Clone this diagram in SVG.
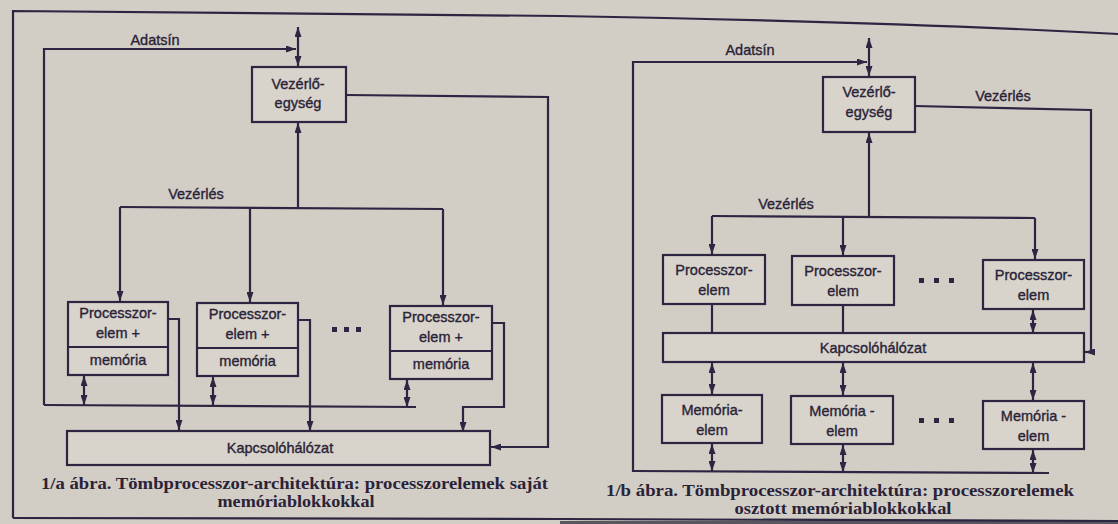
<svg xmlns="http://www.w3.org/2000/svg" width="1118" height="524" viewBox="0 0 1118 524">
<style>
.bg{fill:#d2cdc5}
.ln{fill:none;stroke:#2d2642;stroke-width:2.2}
.box{fill:#d8d3cb;stroke:#2d2642;stroke-width:2.2}
.t{font-family:"Liberation Sans",Arial,sans-serif;font-size:14.5px;fill:#2a2338;stroke:#2a2338;stroke-width:0.35;text-anchor:middle}
.cap{font-family:"Liberation Serif","Times New Roman",serif;font-size:16px;font-weight:bold;fill:#2a2338;text-anchor:middle}
.dot{fill:#2d2642}
.a{marker-end:url(#ah)}
.aa{marker-end:url(#ah);marker-start:url(#ah)}
</style>
<defs>
<marker id="ah" markerUnits="userSpaceOnUse" markerWidth="10" markerHeight="7" refX="10" refY="3.5" orient="auto-start-reverse">
<path d="M0,0 L10,3.5 L0,7 z" fill="#2d2642"/>
</marker>
</defs>
<rect class="bg" x="0" y="0" width="1118" height="524"/>
<polygon points="560,521 1118,520 1118,524 560,524" fill="#5a5660"/>
<g id="frame">
<path class="ln" d="M13,518 V11 L560,16 Q900,22 1118,34"/>
<path class="ln" d="M13,518 L560,519 L1118,521"/>
</g>

<!-- 1/a -->
<g id="a-adatsin-label"><text class="t" x="155" y="45">Adatsín</text></g>
<g id="a-vezerlo">
<rect class="box" x="252" y="67" width="94" height="55"/>
<text class="t" x="298" y="89">Vezérlő-</text>
<text class="t" x="298" y="108">egység</text>
</g>
<g id="a-vezerles-label"><text class="t" x="196" y="199">Vezérlés</text></g>
<g id="a-pe1">
<rect class="box" x="68" y="302" width="100" height="73"/>
<line class="ln" x1="68" y1="347" x2="168" y2="347"/>
<text class="t" x="118" y="318">Processzor-</text>
<text class="t" x="118" y="338">elem +</text>
<text class="t" x="118" y="365">memória</text>
</g>
<g id="a-pe2">
<rect class="box" x="197" y="303" width="101" height="73"/>
<line class="ln" x1="197" y1="348" x2="298" y2="348"/>
<text class="t" x="247.5" y="319">Processzor-</text>
<text class="t" x="247.5" y="339">elem +</text>
<text class="t" x="247.5" y="366">memória</text>
</g>
<g id="a-dots">
<rect class="dot" x="332" y="327" width="5" height="5"/>
<rect class="dot" x="344" y="327" width="5" height="5"/>
<rect class="dot" x="356" y="327" width="5" height="5"/>
</g>
<g id="a-pe3">
<rect class="box" x="390" y="306" width="102" height="73"/>
<line class="ln" x1="390" y1="351" x2="492" y2="351"/>
<text class="t" x="441" y="322">Processzor-</text>
<text class="t" x="441" y="342">elem +</text>
<text class="t" x="441" y="369">memória</text>
</g>
<g id="a-kapcs">
<rect class="box" x="67" y="431" width="423" height="34"/>
<text class="t" x="280" y="453">Kapcsolóhálózat</text>
</g>
<g id="a-caption">
<text class="cap" x="294.5" y="489" textLength="507" lengthAdjust="spacingAndGlyphs">1/a ábra. Tömbprocesszor-architektúra: processzorelemek saját</text>
<text class="cap" x="296" y="507" textLength="157" lengthAdjust="spacingAndGlyphs">memóriablokkokkal</text>
</g>

<g id="a-connectors">
<path class="ln a" d="M44,405 V49 H296"/>
<path class="ln aa" d="M298,66 V27"/>
<path class="ln a" d="M346,95 L548,97 V447 H491"/>
<path class="ln a" d="M298,208 V123"/>
<path class="ln" d="M120,207 L443,209"/>
<path class="ln a" d="M120,207 V301"/>
<path class="ln a" d="M250,208 V302"/>
<path class="ln a" d="M443,209 V305"/>
<path class="ln a" d="M168,319 H179 V430"/>
<path class="ln a" d="M298,320 H310 V431"/>
<path class="ln a" d="M492,323 H504 V407 H463 V432"/>
<path class="ln" d="M44,405 L416,407"/>
<path class="ln aa" d="M84,376 V405"/>
<path class="ln aa" d="M213,377 V405"/>
<path class="ln aa" d="M407,380 V407"/>
</g>

<!-- 1/b -->
<g id="b-adatsin-label"><text class="t" x="750" y="55">Adatsín</text></g>
<g id="b-vezerlo">
<rect class="box" x="823" y="77" width="92" height="55"/>
<text class="t" x="869" y="97">Vezérlő-</text>
<text class="t" x="869" y="117">egység</text>
</g>
<g id="b-vezerles-r-label"><text class="t" x="1003" y="101">Vezérlés</text></g>
<g id="b-vezerles-label"><text class="t" x="786" y="209">Vezérlés</text></g>
<g id="b-pe1">
<rect class="box" x="663" y="255" width="102" height="49"/>
<text class="t" x="714" y="275">Processzor-</text>
<text class="t" x="714" y="295">elem</text>
</g>
<g id="b-pe2">
<rect class="box" x="792" y="256" width="102" height="49"/>
<text class="t" x="843" y="276">Processzor-</text>
<text class="t" x="843" y="296">elem</text>
</g>
<g id="b-dots1">
<rect class="dot" x="919" y="278" width="5" height="5"/>
<rect class="dot" x="934" y="278" width="5" height="5"/>
<rect class="dot" x="949" y="278" width="5" height="5"/>
</g>
<g id="b-pe3">
<rect class="box" x="983" y="260" width="101" height="49"/>
<text class="t" x="1033.5" y="280">Processzor-</text>
<text class="t" x="1033.5" y="300">elem</text>
</g>
<g id="b-kapcs">
<rect class="box" x="663" y="333" width="421" height="29"/>
<text class="t" x="873" y="353">Kapcsolóhálózat</text>
</g>
<g id="b-mem1">
<rect class="box" x="662" y="395" width="100" height="48"/>
<text class="t" x="712" y="415">Memória-</text>
<text class="t" x="712" y="435">elem</text>
</g>
<g id="b-mem2">
<rect class="box" x="791" y="396" width="102" height="48"/>
<text class="t" x="842" y="416">Memória -</text>
<text class="t" x="842" y="436">elem</text>
</g>
<g id="b-dots2">
<rect class="dot" x="919" y="418" width="5" height="5"/>
<rect class="dot" x="934" y="418" width="5" height="5"/>
<rect class="dot" x="949" y="418" width="5" height="5"/>
</g>
<g id="b-mem3">
<rect class="box" x="983" y="401" width="101" height="48"/>
<text class="t" x="1033.5" y="421">Memória -</text>
<text class="t" x="1033.5" y="441">elem</text>
</g>
<g id="b-caption">
<text class="cap" x="840" y="496" textLength="468" lengthAdjust="spacingAndGlyphs">1/b ábra. Tömbprocesszor-architektúra: processzorelemek</text>
<text class="cap" x="843" y="514" textLength="217" lengthAdjust="spacingAndGlyphs">osztott memóriablokkokkal</text>
</g>

<g id="b-connectors">
<path class="ln a" d="M633,472 V62 H867"/>
<path class="ln aa" d="M869,76 V38"/>
<path class="ln" d="M915,106 L1091,110 V352"/>
<path class="ln a" d="M1092,352 H1085"/>
<path class="ln a" d="M869,217 V133"/>
<path class="ln" d="M712,216 L1035,218"/>
<path class="ln a" d="M712,216 V254"/>
<path class="ln a" d="M843,217 V255"/>
<path class="ln a" d="M1035,218 V259"/>
<path class="ln" d="M712,304 V333"/>
<path class="ln" d="M843,305 V333"/>
<path class="ln aa" d="M1033,310 V333"/>
<path class="ln aa" d="M712,363 V394"/>
<path class="ln aa" d="M843,363 V395"/>
<path class="ln aa" d="M1033,363 V400"/>
<path class="ln aa" d="M712,444 V471"/>
<path class="ln aa" d="M843,445 V472"/>
<path class="ln aa" d="M1033,450 V473"/>
<path class="ln" d="M633,471 L1049,473"/>
</g>
</svg>
